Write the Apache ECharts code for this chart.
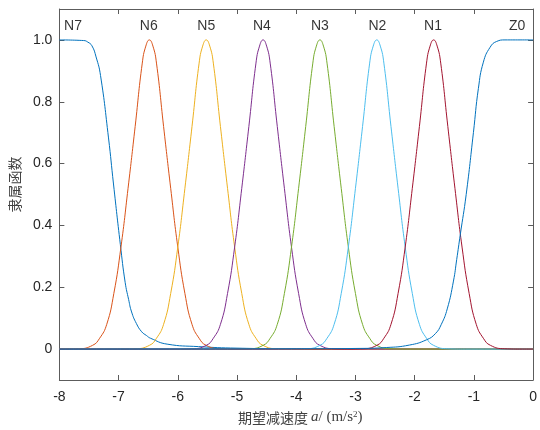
<!DOCTYPE html>
<html>
<head>
<meta charset="utf-8">
<script src="https://cdn.jsdelivr.net/npm/echarts@6/dist/echarts.min.js"></script>
<style>
  html, body { margin: 0; padding: 0; background: #ffffff; }
  #chart { width: 540px; height: 430px; }
</style>
</head>
<body>
<div id="chart"></div>
<script>
// Membership functions of the desired deceleration a (m/s^2)
const curveNames = ['N7', 'N6', 'N5', 'N4', 'N3', 'N2', 'N1', 'Z0'];

const xTicks = [-8, -7, -6, -5, -4, -3, -2, -1, 0];
const yTicks = [0, 0.2, 0.4, 0.6, 0.8, 1.0];

// N7: left shoulder
const n7X = [-8, -7.59, -7.52, -7.45, -7.38, -7.305, -7.17, -7.086, -6.97, -6.889, -6.83, -6.78, -6.7, -6.61, -6.53, -6.46, -6.18, -5.65, -5, -4, 0];
const n7Y = [1, 0.998, 0.993, 0.981, 0.945, 0.885, 0.683, 0.534, 0.338, 0.216, 0.16, 0.12, 0.083, 0.056, 0.044, 0.035, 0.016, 0.008, 0.003, 0.001, 0];

// N6 .. N1: bell-shaped sets
const n6X = [-8, -7.98, -7.68, -7.44, -7.32, -7.2, -7.08, -6.96, -6.84, -6.72, -6.6, -6.54, -6.48, -6.42, -6.36, -6.24, -6.12, -6, -5.88, -5.76, -5.64, -5.52, -5.28, -4.98, 0];
const n6Y = [0, 0, 0.001, 0.012, 0.035, 0.08, 0.18, 0.33, 0.52, 0.72, 0.925, 0.98, 1, 0.98, 0.925, 0.72, 0.52, 0.33, 0.18, 0.08, 0.035, 0.012, 0.001, 0, 0];

const n5X = [-8, -7.02, -6.72, -6.48, -6.36, -6.24, -6.12, -6, -5.88, -5.76, -5.64, -5.58, -5.52, -5.46, -5.4, -5.28, -5.16, -5.04, -4.92, -4.8, -4.68, -4.56, -4.32, -4.02, 0];
const n5Y = [0, 0, 0.001, 0.012, 0.035, 0.08, 0.18, 0.33, 0.52, 0.72, 0.925, 0.98, 1, 0.98, 0.925, 0.72, 0.52, 0.33, 0.18, 0.08, 0.035, 0.012, 0.001, 0, 0];

const n4X = [-8, -6.06, -5.76, -5.52, -5.4, -5.28, -5.16, -5.04, -4.92, -4.8, -4.68, -4.62, -4.56, -4.5, -4.44, -4.32, -4.2, -4.08, -3.96, -3.84, -3.72, -3.6, -3.36, -3.06, 0];
const n4Y = [0, 0, 0.001, 0.012, 0.035, 0.08, 0.18, 0.33, 0.52, 0.72, 0.925, 0.98, 1, 0.98, 0.925, 0.72, 0.52, 0.33, 0.18, 0.08, 0.035, 0.012, 0.001, 0, 0];

const n3X = [-8, -5.1, -4.8, -4.56, -4.44, -4.32, -4.2, -4.08, -3.96, -3.84, -3.72, -3.66, -3.6, -3.54, -3.48, -3.36, -3.24, -3.12, -3, -2.88, -2.76, -2.64, -2.4, -2.1, 0];
const n3Y = [0, 0, 0.001, 0.012, 0.035, 0.08, 0.18, 0.33, 0.52, 0.72, 0.925, 0.98, 1, 0.98, 0.925, 0.72, 0.52, 0.33, 0.18, 0.08, 0.035, 0.012, 0.001, 0, 0];

const n2X = [-8, -4.14, -3.84, -3.6, -3.48, -3.36, -3.24, -3.12, -3, -2.88, -2.76, -2.7, -2.64, -2.58, -2.52, -2.4, -2.28, -2.16, -2.04, -1.92, -1.8, -1.68, -1.44, -1.14, 0];
const n2Y = [0, 0, 0.001, 0.012, 0.035, 0.08, 0.18, 0.33, 0.52, 0.72, 0.925, 0.98, 1, 0.98, 0.925, 0.72, 0.52, 0.33, 0.18, 0.08, 0.035, 0.012, 0.001, 0, 0];

const n1X = [-8, -3.18, -2.88, -2.64, -2.52, -2.4, -2.28, -2.16, -2.04, -1.92, -1.8, -1.74, -1.68, -1.62, -1.56, -1.44, -1.32, -1.2, -1.08, -0.96, -0.84, -0.72, -0.48, -0.18, 0];
const n1Y = [0, 0, 0.001, 0.012, 0.035, 0.08, 0.18, 0.33, 0.52, 0.72, 0.925, 0.98, 1, 0.98, 0.925, 0.72, 0.52, 0.33, 0.18, 0.08, 0.035, 0.012, 0.001, 0, 0];

// Z0: right shoulder
const z0X = [-8, -4, -3, -2.48, -2.09, -1.8, -1.65, -1.55, -1.45, -1.345, -1.29, -1.23, -1.13, -1.008, -0.924, -0.84, -0.727, -0.616, -0.475, 0];
const z0Y = [0, 0.001, 0.002, 0.005, 0.013, 0.03, 0.05, 0.08, 0.13, 0.22, 0.29, 0.37, 0.5, 0.70, 0.843, 0.928, 0.976, 0.995, 1, 1];

const curves = [
  [n7X, n7Y], [n6X, n6Y], [n5X, n5Y], [n4X, n4Y],
  [n3X, n3Y], [n2X, n2Y], [n1X, n1Y], [z0X, z0Y]
];

const palette = ['#0072BD', '#D95319', '#EDB120', '#7E2F8E', '#77AC30', '#4DBEEE', '#A2142F', '#0072BD'];

// where each set's name is written above the plot
const tagX = [-7.77, -6.49, -5.52, -4.58, -3.6, -2.63, -1.69, -0.27];
const tagY = 1.046;

const axisColor = '#5c5c5c';
const textColor = '#262626';
const sansFont = '"Liberation Sans", Arial, sans-serif';
const serifFont = '"Liberation Serif", "Times New Roman", serif';

const lineSeries = curves.map(function (c, i) {
  return {
    name: curveNames[i],
    type: 'line',
    xAxisIndex: 0,
    yAxisIndex: 0,
    data: c[0].map(function (x, k) { return [x, c[1][k]]; }),
    showSymbol: false,
    symbol: 'none',
    smooth: 0.5,
    lineStyle: { color: palette[i], width: 1 },
    itemStyle: { color: palette[i] },
    silent: true,
    animation: false
  };
});

const tagSeries = {
  type: 'scatter',
  xAxisIndex: 0,
  yAxisIndex: 0,
  symbolSize: 0,
  silent: true,
  animation: false,
  data: tagX.map(function (x, i) { return [x, tagY, curveNames[i]]; }),
  label: {
    show: true,
    position: 'inside',
    formatter: function (p) { return p.data[2]; },
    color: '#000000',
    fontSize: 14,
    fontFamily: sansFont
  }
};

const chart = echarts.init(document.getElementById('chart'), null, { renderer: 'canvas' });

chart.setOption({
  backgroundColor: '#ffffff',
  animation: false,
  grid: { left: 59, right: 6, top: 9, bottom: 45, containLabel: false },
  xAxis: [
    {
      type: 'value', min: -8, max: 0, interval: 1,
      axisLine: { onZero: false, lineStyle: { color: axisColor, width: 1 } },
      axisTick: { inside: true, length: 5, lineStyle: { color: axisColor } },
      axisLabel: {
        color: textColor, fontSize: 14, fontFamily: sansFont, margin: 10,
        formatter: function (v) { return String(v); }
      },
      splitLine: { show: false },
      name: '期望减速度 {i|a}{t|/ (m/s}{s|2}{t|)}',
      nameLocation: 'middle',
      nameGap: 30,
      nameTextStyle: {
        color: '#404040', fontSize: 14, fontFamily: '"Noto Sans CJK SC", sans-serif',
        padding: [0, 0, 0, 8],
        rich: {
          i: { fontFamily: serifFont, fontStyle: 'italic', fontSize: 15, color: '#404040' },
          t: { fontFamily: serifFont, fontSize: 15, color: '#404040' },
          s: { fontFamily: serifFont, fontSize: 9, verticalAlign: 'top', color: '#404040', padding: [0, 0, 6, 0] }
        }
      }
    },
    {
      type: 'value', position: 'top', min: -8, max: 0, interval: 1,
      axisLine: { onZero: false, lineStyle: { color: axisColor, width: 1 } },
      axisTick: { inside: true, length: 5, lineStyle: { color: axisColor } },
      axisLabel: { show: false },
      splitLine: { show: false }
    }
  ],
  yAxis: [
    {
      type: 'value', min: -0.1, max: 1.1,
      axisLine: { onZero: false, lineStyle: { color: axisColor, width: 1 } },
      axisTick: { inside: true, length: 5, lineStyle: { color: axisColor }, customValues: yTicks },
      axisLabel: {
        color: textColor, fontSize: 14, fontFamily: sansFont, margin: 7,
        customValues: yTicks,
        formatter: function (v) { return v === 0 ? '0' : v.toFixed(1); }
      },
      splitLine: { show: false },
      name: '隶属函数',
      nameLocation: 'middle',
      nameGap: 37,
      nameRotate: 90,
      nameTextStyle: {
        color: '#404040', fontSize: 14, fontFamily: '"Noto Sans CJK SC", sans-serif',
        padding: [0, 0, 0, 20]
      }
    },
    {
      type: 'value', position: 'right', min: -0.1, max: 1.1,
      axisLine: { onZero: false, lineStyle: { color: axisColor, width: 1 } },
      axisTick: { inside: true, length: 5, lineStyle: { color: axisColor }, customValues: yTicks },
      axisLabel: { show: false, customValues: yTicks },
      splitLine: { show: false }
    }
  ],
  series: lineSeries.concat([tagSeries])
});
</script>
</body>
</html>
